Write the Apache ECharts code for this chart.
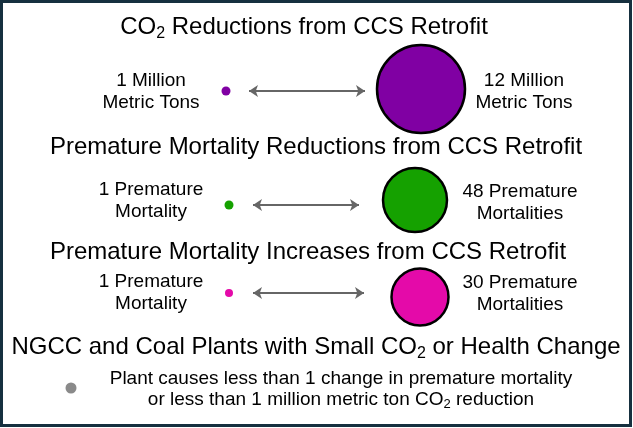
<!DOCTYPE html>
<html>
<head>
<meta charset="utf-8">
<script src="https://cdn.jsdelivr.net/npm/echarts@6/dist/echarts.min.js"></script>
<style>
  html, body { margin: 0; padding: 0; background: #fff; }
  #chart { width: 633px; height: 428px; }
</style>
</head>
<body>
<div id="chart"></div>
<script>
  // legend rows: smallest / largest marker value per row
  var rowNames = ['co2', 'mortReduce', 'mortIncrease']
  var minValues = [1, 1, 1]
  var maxValues = [12, 48, 30]
  var minLabels = ['1 Million\nMetric Tons', '1 Premature\nMortality', '1 Premature\nMortality']
  var maxLabels = ['12 Million\nMetric Tons', '48 Premature\nMortalities', '30 Premature\nMortalities']
  var smallChangeValues = [0.5]

  var FONT = '"Liberation Sans", Arial, sans-serif'
  var colors = ['#8000a3', '#15a100', '#e40aa9']
  // pixel layout of each legend row
  var rowY = [91, 205, 293]
  var bigShift = [-2, -5, 4]
  var smallX = [226, 229, 229]
  var bigX = [421, 415, 420]
  var arrowX = [[249, 365], [253, 359], [253, 364]]
  var sizeRange = [[9, 88], [9, 64], [8, 57]]

  var chart = echarts.init(document.getElementById('chart'))

  var grids = [], xAxes = [], yAxes = [], series = []
  rowNames.forEach(function (name, i) {
    grids.push({ left: smallX[i], width: bigX[i] - smallX[i], top: rowY[i] - 10, height: 20 })
    xAxes.push({ type: 'category', gridIndex: i, show: false, boundaryGap: false, data: ['min', 'max'] })
    yAxes.push({ type: 'category', gridIndex: i, show: false, data: [name] })
    var lo = minValues[i], hi = maxValues[i], r = sizeRange[i]
    series.push({
      type: 'scatter',
      xAxisIndex: i,
      yAxisIndex: i,
      silent: true,
      symbolSize: function (val) {
        return r[0] + (val[2] - lo) / (hi - lo) * (r[1] - r[0])
      },
      itemStyle: { color: colors[i], opacity: 1 },
      data: [
        { value: ['min', name, minValues[i]] },
        { value: ['max', name, maxValues[i]], symbolOffset: [0, bigShift[i]],
          itemStyle: { borderColor: '#000', borderWidth: 2.5 } }
      ],
      markLine: {
        silent: true,
        symbol: ['arrow', 'arrow'],
        symbolSize: [9, 9],
        label: { show: false },
        lineStyle: { color: '#666', width: 2, type: 'solid' },
        data: [[{ x: arrowX[i][0], y: rowY[i] }, { x: arrowX[i][1], y: rowY[i] }]]
      }
    })
  })

  // grey dot for plants with small change
  grids.push({ left: 71, width: 1, top: 378, height: 20 })
  xAxes.push({ type: 'value', gridIndex: 3, show: false, min: 0, max: 1 })
  yAxes.push({ type: 'category', gridIndex: 3, show: false, data: ['small'] })
  series.push({
    type: 'scatter', xAxisIndex: 3, yAxisIndex: 3, silent: true,
    symbolSize: 11,
    itemStyle: { color: '#8a8a8a', opacity: 1 },
    data: smallChangeValues.map(function (v) { return [0, 'small', v] })
  })

  function title(txt, x, y) {
    return {
      type: 'text', silent: true,
      style: {
        text: txt, x: x, y: y, textAlign: 'center', textVerticalAlign: 'middle',
        fill: '#000', font: '24px ' + FONT,
        rich: {
          n: { fontSize: 24, fontFamily: FONT, lineHeight: 30, fill: '#000' },
          s: { fontSize: 16, fontFamily: FONT, lineHeight: 30, padding: [14, 0, 0, 0], fill: '#000' }
        }
      }
    }
  }
  function label(txt, x, y) {
    return {
      type: 'text', silent: true,
      style: {
        text: txt, x: x, y: y, textAlign: 'center', textVerticalAlign: 'middle',
        fill: '#000', font: '19px ' + FONT, lineHeight: 22
      }
    }
  }

  var graphics = [
    { type: 'rect', silent: true, shape: { x: 1.5, y: 1.5, width: 629, height: 424 },
      style: { fill: 'none', stroke: '#16303f', lineWidth: 3 } },
    title('{n|CO}{s|2}{n| Reductions from CCS Retrofit}', 304, 27),
    title('{n|Premature Mortality Reductions from CCS Retrofit}', 316, 147),
    title('{n|Premature Mortality Increases from CCS Retrofit}', 308, 252),
    title('{n|NGCC and Coal Plants with Small CO}{s|2}{n| or Health Change}', 316, 347)
  ]
  var minLabelX = [151, 151, 151], maxLabelX = [524, 520, 520]
  var minLabelY = [92, 201, 293], maxLabelY = [92, 203, 294]
  rowNames.forEach(function (n, i) {
    graphics.push(label(minLabels[i], minLabelX[i], minLabelY[i]))
    graphics.push(label(maxLabels[i], maxLabelX[i], maxLabelY[i]))
  })
  graphics.push({
    type: 'text', silent: true,
    style: {
      text: '{n|Plant causes less than 1 change in premature mortality}\n{n|or less than 1 million metric ton CO}{s|2}{n| reduction}',
      x: 341, y: 389, textAlign: 'center', textVerticalAlign: 'middle',
      fill: '#000', font: '19px ' + FONT,
      rich: {
        n: { fontSize: 19, fontFamily: FONT, lineHeight: 21, fill: '#000' },
        s: { fontSize: 13, fontFamily: FONT, lineHeight: 21, padding: [10, 0, 0, 0], fill: '#000' }
      }
    }
  })

  chart.setOption({
    animation: false,
    backgroundColor: '#fff',
    grid: grids,
    xAxis: xAxes,
    yAxis: yAxes,
    series: series,
    graphic: graphics
  })
</script>
</body>
</html>
